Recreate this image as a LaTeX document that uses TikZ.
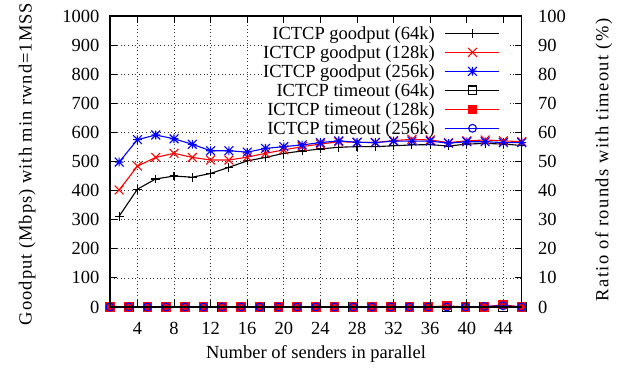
\documentclass[tikz,border=0pt]{standalone}
\usepackage{fontspec}
\setmainfont{Liberation Serif}
\usetikzlibrary{plotmarks}

% gnuplot-style point symbols
\pgfdeclareplotmark{gpplus}{%
  \pgfpathmoveto{\pgfqpoint{-\pgfplotmarksize}{0pt}}\pgfpathlineto{\pgfqpoint{\pgfplotmarksize}{0pt}}%
  \pgfpathmoveto{\pgfqpoint{0pt}{-\pgfplotmarksize}}\pgfpathlineto{\pgfqpoint{0pt}{\pgfplotmarksize}}%
  \pgfusepathqstroke}
\pgfdeclareplotmark{gpcross}{%
  \pgfpathmoveto{\pgfqpoint{-\pgfplotmarksize}{-\pgfplotmarksize}}\pgfpathlineto{\pgfqpoint{\pgfplotmarksize}{\pgfplotmarksize}}%
  \pgfpathmoveto{\pgfqpoint{-\pgfplotmarksize}{\pgfplotmarksize}}\pgfpathlineto{\pgfqpoint{\pgfplotmarksize}{-\pgfplotmarksize}}%
  \pgfusepathqstroke}
\pgfdeclareplotmark{gpstar}{%
  \pgfpathmoveto{\pgfqpoint{-\pgfplotmarksize}{0pt}}\pgfpathlineto{\pgfqpoint{\pgfplotmarksize}{0pt}}%
  \pgfpathmoveto{\pgfqpoint{0pt}{-\pgfplotmarksize}}\pgfpathlineto{\pgfqpoint{0pt}{\pgfplotmarksize}}%
  \pgfpathmoveto{\pgfqpoint{-\pgfplotmarksize}{-\pgfplotmarksize}}\pgfpathlineto{\pgfqpoint{\pgfplotmarksize}{\pgfplotmarksize}}%
  \pgfpathmoveto{\pgfqpoint{-\pgfplotmarksize}{\pgfplotmarksize}}\pgfpathlineto{\pgfqpoint{\pgfplotmarksize}{-\pgfplotmarksize}}%
  \pgfusepathqstroke}

\definecolor{gpred}{RGB}{255,0,0}
\definecolor{gpblue}{RGB}{0,0,255}

\tikzset{
  lbl/.style={inner sep=0pt, font=\fontsize{18.5}{20}\selectfont},
  gridline/.style={black!80, line width=0.7pt, dash pattern=on 1pt off 2.6pt},
  axisline/.style={black, line width=1.5pt},
  tickline/.style={black, line width=1pt},
  curve/.style={line width=1.1pt, mark size=4.4pt, mark options={solid}},
  gpblack/.style={curve, black},
  gpr/.style={curve, gpred},
  gpb/.style={curve, gpblue},
}

\begin{document}
\begin{tikzpicture}[x=1pt, y=1pt]
\useasboundingbox (0,0) rectangle (621,371);
\clip (0,0) rectangle (621,371);

% ---------- grid ----------
\begin{scope}[shift={(100.851,64)}, x=9.149pt, y=0.291pt]
  \foreach \v in {100,200,...,900} \draw[gridline] (1,\v) -- (46,\v);
  \foreach \u in {4,8,...,44} \draw[gridline] (\u,0) -- (\u,1000);
\end{scope}

% opaque key background
\fill[white] (264,232) rectangle (507,348);

% ---------- goodput curves (left axis) ----------
\begin{scope}[shift={(100.851,64)}, x=9.149pt, y=0.291pt]
  \draw[gpblack] plot[mark=gpplus] coordinates {
    (2,312) (4,405) (6,440) (8,450) (10,446) (12,459) (14,480) (16,502)
    (18,514) (20,528) (22,536) (24,543) (26,549) (28,551) (30,551) (32,554)
    (34,557) (36,558) (38,553) (40,560) (42,562) (44,560) (46,555)};
  \draw[gpr] plot[mark=gpcross] coordinates {
    (2,402) (4,484) (6,514) (8,528) (10,514) (12,505) (14,505) (16,515)
    (18,528) (20,540) (22,551) (24,560) (26,568) (28,566) (30,565) (32,572)
    (34,576) (36,574) (38,565) (40,571) (42,574) (44,571) (46,568)};
  \draw[gpb] plot[mark=gpstar] coordinates {
    (2,498) (4,575) (6,591) (8,578) (10,559) (12,537) (14,537) (16,532)
    (18,545) (20,551) (22,557) (24,565) (26,571) (28,566) (30,565) (32,570)
    (34,570) (36,570) (38,563) (40,568) (42,568) (44,565) (46,565)};
\end{scope}

% ---------- timeout ratio (right axis) ----------
\begin{scope}[shift={(100.851,64)}, x=9.149pt, y=2.91pt]
  \draw[gpblack, mark size=4.3pt] plot[mark=square, samples=23, domain=0:22] ({1+45*\x/22},0);
  \draw[gpr, mark size=4.1pt] plot[mark=square*] coordinates {
    (1,0) (3.045,0) (5.091,0) (7.136,0) (9.182,0) (11.227,0) (13.273,0)
    (15.318,0) (17.364,0) (19.409,0) (21.455,0) (23.5,0) (25.545,0)
    (27.591,0) (29.636,0) (31.682,0) (33.727,0) (35.773,0) (37.818,0.4)
    (39.864,0) (41.909,0) (43.955,0.8) (46,0)};
  \draw[gpb, mark size=3.9pt] plot[mark=o] coordinates {
    (1,0) (3.045,0) (5.091,0) (7.136,0) (9.182,0) (11.227,0) (13.273,0)
    (15.318,0) (17.364,0) (19.409,0) (21.455,0) (23.5,0) (25.545,0)
    (27.591,0) (29.636,0) (31.682,0) (33.727,0) (35.773,0) (37.818,0)
    (39.864,0) (41.909,0.2) (43.955,0.4) (46,0)};
\end{scope}

% ---------- frame and ticks ----------
\draw[axisline] (110,64) rectangle (521.7,355);
\foreach \v [evaluate=\v as \yy using {64+0.291*\v}] in {0,100,...,1000} {
  \draw[tickline] (110,\yy) -- ++(7,0);
  \draw[tickline] (521.7,\yy) -- ++(-7,0);
  \node[lbl, anchor=east] (yl\v) at (99.5,\yy) {\v};
}
\foreach \r [evaluate=\r as \yy using {64+2.91*\r}] in {0,10,...,100} {
  \node[lbl, anchor=west] (yr\r) at (538,\yy) {\r};
}
\foreach \u [evaluate=\u as \xx using {100.851+9.149*\u}] in {4,8,...,44} {
  \draw[tickline] (\xx,64) -- ++(0,7);
  \draw[tickline] (\xx,355) -- ++(0,-7);
  \node[lbl, anchor=base] (xt\u) at (\xx,36) {\u};
}

% ---------- axis titles ----------
\node[lbl, anchor=base] (xlab) at (316,12) {Number of senders in parallel};
\node[lbl, anchor=base, rotate=90] (ylab) at (31.7,207)
  {\addfontfeature{LetterSpace=5.4}Goodput (Mbps) with min rwnd=1MSS};
\node[lbl, anchor=base, rotate=90] (y2lab) at (608.3,211)
  {\addfontfeature{LetterSpace=7.6}Ratio of rounds with timeout (\%)};

% ---------- key ----------
\foreach \t/\yy/\sty/\mk/\ms in {
    ICTCP goodput (64k)/337.7/gpblack/gpplus/4.4pt,
    ICTCP goodput (128k)/318.7/gpr/gpcross/4.4pt,
    ICTCP goodput (256k)/299.7/gpb/gpstar/4.4pt,
    ICTCP timeout (64k)/280.7/gpblack/square/4.3pt,
    ICTCP timeout (128k)/261.7/gpr/square*/4.1pt,
    ICTCP timeout (256k)/242.7/gpb/o/3.9pt} {
  \node[lbl, anchor=base east] at (435,\yy-6.2) {\t};
  \draw[\sty] (445,\yy) -- (499,\yy);
  \path[\sty, mark size=\ms] plot[mark=\mk] coordinates {(472.5,\yy)};
}
\end{tikzpicture}
\end{document}
